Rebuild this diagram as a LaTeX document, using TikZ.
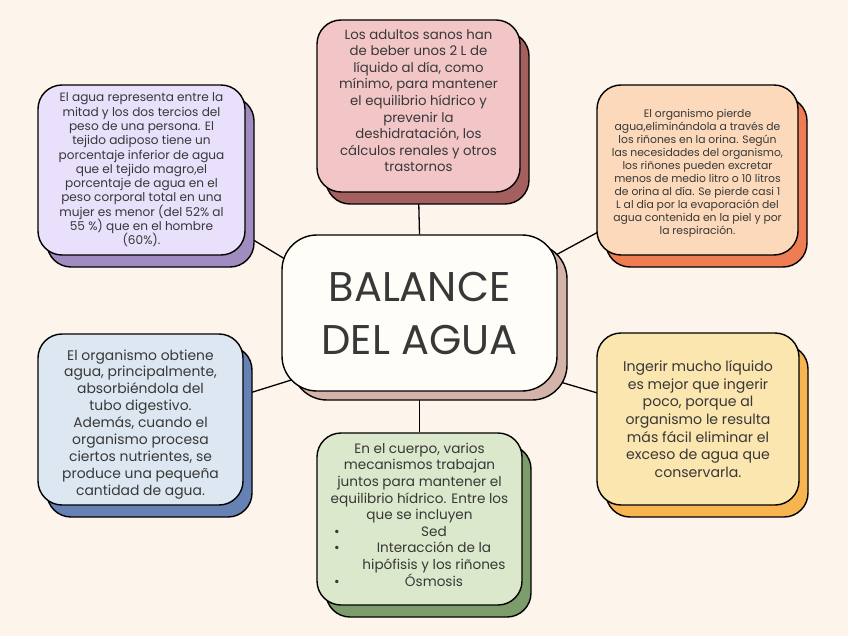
\documentclass[tikz,border=0pt]{standalone}
\usepackage{fontspec}
\setmainfont{Poppins}
\usetikzlibrary{calc,shadows}
\definecolor{bg}{HTML}{FDF5EC}
\definecolor{txt}{HTML}{383838}
\definecolor{cfill}{HTML}{FFFDF8}
\definecolor{cshad}{HTML}{D4B4A8}
\definecolor{pinkF}{HTML}{F2C5C7}
\definecolor{pinkS}{HTML}{A4605F}
\definecolor{lavF}{HTML}{E9E0FB}
\definecolor{lavS}{HTML}{A18CC2}
\definecolor{peachF}{HTML}{FBD9BA}
\definecolor{peachS}{HTML}{EF7D53}
\definecolor{blueF}{HTML}{DDE7F1}
\definecolor{blueS}{HTML}{6681B4}
\definecolor{greenF}{HTML}{DCE8CB}
\definecolor{greenS}{HTML}{7C9C6C}
\definecolor{yelF}{HTML}{FBE6AF}
\definecolor{yelS}{HTML}{F7B552}
\newcommand\bline[2]{\makebox[29pt]{#1}\makebox[165pt]{#2}}
\newcommand\fs[2]{\fontsize{#1}{#2}\selectfont\lineskiplimit=-20pt}
\pgfdeclarelayer{background}
\pgfsetlayers{background,main}
\tikzset{
  box/.style={draw=black, line width=1.4pt, rounded corners=24pt, align=center, inner sep=0pt, text=txt},
  sbox/.style 2 args={box, fill=#1, copy shadow={shadow xshift=9pt, shadow yshift=-12pt, fill=#2, draw=black, line width=1.4pt}},
  conn/.style={draw=black, line width=1.3pt},
}
\begin{document}
\begin{tikzpicture}[x=1pt,y=-1pt]
\useasboundingbox (0,0) rectangle (848,636);

\node[box, fill=cfill, rounded corners=35pt, minimum width=275pt, minimum height=156pt,
  copy shadow={shadow xshift=10pt, shadow yshift=-9pt, fill=cshad, draw=black, line width=1.4pt},
  font=\fs{41.5}{53}] (c) at (419.5,313) {BALANCE\\DEL AGUA};

\node[sbox={pinkF}{pinkS}, minimum width=203pt, minimum height=172pt,
  font=\fs{13.3}{16.6}] (top) at (418.5,106)
  {Los adultos sanos han\\de beber unos 2 L de\\líquido al día, como\\mínimo, para mantener\\el equilibrio hídrico y\\prevenir la\\deshidratación, los\\cálculos renales y otros\\trastornos\rule[-11pt]{0pt}{0pt}};

\node[sbox={lavF}{lavS}, minimum width=207pt, minimum height=170pt,
  font=\fs{12.1}{14.3}] (tl) at (141.5,170)
  {El agua representa entre la\\mitad y los dos tercios del\\peso de una persona. El\\tejido adiposo tiene un\\porcentaje inferior de agua\\que el tejido magro,el\\porcentaje de agua en el\\peso corporal total en una\\mujer es menor (del 52\% al\\55 \%) que en el hombre\\(60\%).};

\node[sbox={peachF}{peachS}, minimum width=201pt, minimum height=170pt,
  font=\fs{10.8}{13}] (tr) at (697.5,170)
  {\rule{0pt}{15pt}El organismo pierde\\agua,eliminándola a través de\\los riñones en la orina. Según\\las necesidades del organismo,\\los riñones pueden excretar\\menos de medio litro o 10 litros\\de orina al día. Se pierde casi 1\\L al día por la evaporación del\\agua contenida en la piel y por\\la respiración.};

\node[sbox={blueF}{blueS}, minimum width=205pt, minimum height=171pt,
  font=\fs{13.9}{16.9}] (bl) at (140.5,419.5)
  {\rule{0pt}{20pt}El organismo obtiene\\agua, principalmente,\\absorbiéndola del\\tubo digestivo.\\Además, cuando el\\organismo procesa\\ciertos nutrientes, se\\produce una pequeña\\cantidad de agua.};

\node[sbox={greenF}{greenS}, minimum width=205pt, minimum height=172pt,
  font=\fs{13.6}{16.6}] (bot) at (419.5,519)
  {En el cuerpo, varios\\mecanismos trabajan\\juntos para mantener el\\equilibrio hídrico. Entre los\\que se incluyen\\\bline{\textbullet}{Sed}\\\bline{\textbullet}{Interacción de la}\\\bline{}{hipófisis y los riñones}\\\bline{\textbullet}{Ósmosis}\rule[-9pt]{0pt}{0pt}};

\node[sbox={yelF}{yelS}, minimum width=202pt, minimum height=172pt,
  font=\fs{14.1}{17.7}] (br) at (698,419)
  {Ingerir mucho líquido\\es mejor que ingerir\\poco, porque al\\organismo le resulta\\más fácil eliminar el\\exceso de agua que\\conservarla.};

\begin{pgfonlayer}{background}
\fill[bg] (0,0) rectangle (848,636);
\draw[conn] (top.south) -- (c.north);
\draw[conn] (c.south) -- (bot.north);
\draw[conn] ($(tl.south east)+(-8.5,-25.5)$) -- ($(c.north west)+(16.5,32.5)$);
\draw[conn] ($(c.north east)+(-14.2,27.4)$) -- ($(tr.south west)+(14.2,-30.4)$);
\draw[conn] ($(bl.east)+(-6.2,-22.7)$) -- ($(c.south west)+(23.2,-15.8)$);
\draw[conn] ($(c.south east)+(-7,-12.5)$) -- ($(br.west)+(13,-22.5)$);
\end{pgfonlayer}
\end{tikzpicture}
\end{document}
